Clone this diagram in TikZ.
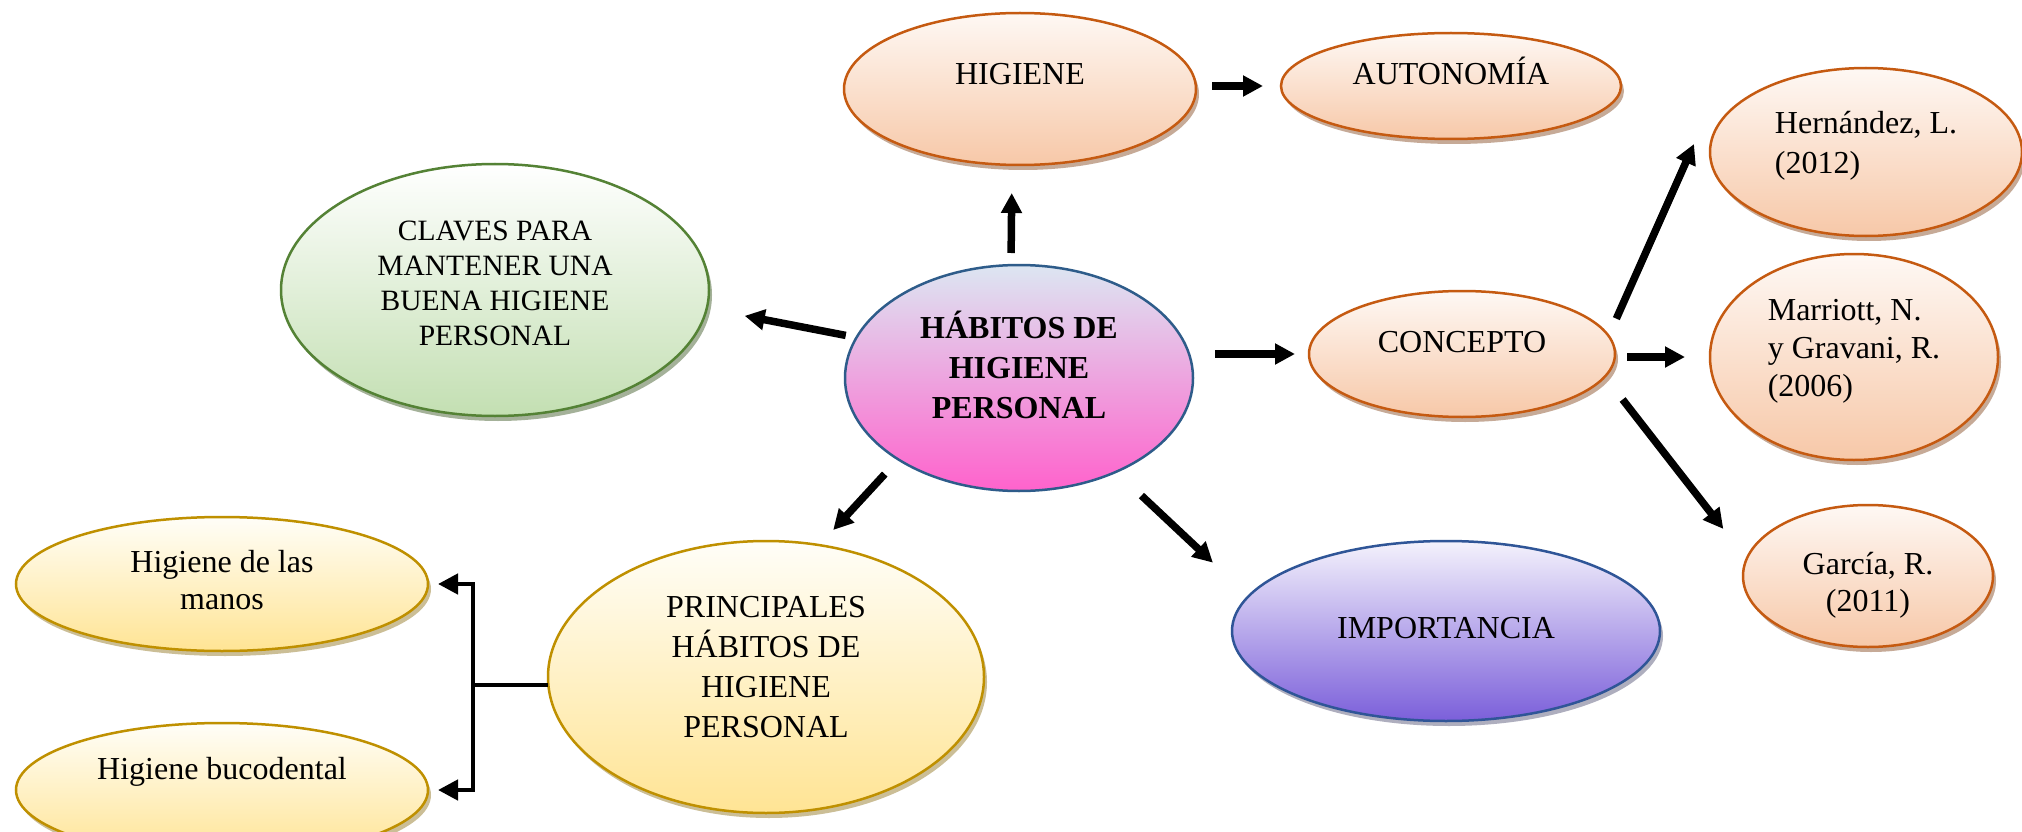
\documentclass[tikz,border=0pt]{standalone}
\usepackage{fontspec}
\setmainfont{Liberation Serif}
\usetikzlibrary{arrows.meta,shapes.geometric,shadows,calc}
\definecolor{orBd}{HTML}{C55A11}
\definecolor{orTop}{HTML}{FEF8F4}
\definecolor{orBot}{HTML}{F7C8A8}
\definecolor{orSh}{HTML}{B8957E}
\definecolor{pkBd}{HTML}{2E5C8A}
\definecolor{pkTop}{HTML}{DCE6F2}
\definecolor{pkBot}{HTML}{FF62CC}
\definecolor{gnBd}{HTML}{548235}
\definecolor{gnTop}{HTML}{FFFFFF}
\definecolor{gnBot}{HTML}{C3DFB2}
\definecolor{gnSh}{HTML}{8E9E80}
\definecolor{yeBd}{HTML}{BF9000}
\definecolor{yeTop}{HTML}{FFFEF8}
\definecolor{yeBot}{HTML}{FFE494}
\definecolor{yeSh}{HTML}{BFAE7C}
\definecolor{puBd}{HTML}{2F5597}
\definecolor{puTop}{HTML}{F4F2FC}
\definecolor{puBot}{HTML}{7B5FDA}
\definecolor{puSh}{HTML}{9A9AAE}
\newcommand{\tx}[3][c]{\raisebox{#2}[\height][\depth]{\begin{tabular}{@{}#1@{}}#3\end{tabular}}}
\begin{document}
\begin{tikzpicture}[x=1pt,y=-1pt,
  base/.style={ellipse, inner sep=0pt, outer sep=0pt, line width=2.5pt},
  fs/.style={font=\fontsize{32}{#1}\selectfont},
  orell/.style={base, draw=orBd, top color=orTop, bottom color=orBot,
     drop shadow={shadow xshift=3pt,shadow yshift=-5pt,fill=orSh,opacity=0.8}},
  gnell/.style={base, draw=gnBd, top color=gnTop, bottom color=gnBot,
     drop shadow={shadow xshift=3pt,shadow yshift=-5pt,fill=gnSh,opacity=0.8}},
  yeell/.style={base, draw=yeBd, top color=yeTop, bottom color=yeBot,
     drop shadow={shadow xshift=3pt,shadow yshift=-5pt,fill=yeSh,opacity=0.8}},
  puell/.style={base, draw=puBd, top color=puTop, bottom color=puBot,
     drop shadow={shadow xshift=3pt,shadow yshift=-5pt,fill=puSh,opacity=0.8}},
  pkell/.style={base, draw=pkBd, top color=pkTop, bottom color=pkBot},
  arr/.style={line width=7.5pt, -{Triangle[length=20pt,width=20pt]}},
  barr/.style={line width=4.5pt, -{Triangle[length=20pt,width=20pt]}},
  brl/.style={line width=3.5pt}
]
\fill[white] (0,0) rectangle (2022,832);
\useasboundingbox (0,0) rectangle (2022,832);

% nodes
\node[orell, fs=38, minimum width=352pt, minimum height=152pt] (hig) at (1020,89) {\tx{12pt}{HIGIENE}};
\node[orell, fs=38, minimum width=340pt, minimum height=106pt] (aut) at (1451,86) {\tx{10pt}{AUTONOMÍA}};
\node[pkell, fs=40, minimum width=348pt, minimum height=226pt] (hab) at (1019,378) {\tx{8pt}{\bfseries HÁBITOS DE\\\bfseries HIGIENE\\\bfseries PERSONAL}};
\node[gnell, font=\fontsize{29.5}{35}\selectfont, minimum width=428pt, minimum height=252pt] (cla) at (495,290) {\tx{4pt}{CLAVES PARA\\MANTENER UNA\\BUENA HIGIENE\\PERSONAL}};
\node[orell, fs=38, minimum width=306pt, minimum height=126pt] (con) at (1462,354) {\tx{9pt}{CONCEPTO}};
\node[orell, fs=40, minimum width=312pt, minimum height=168pt] (her) at (1866,152) {\tx[l]{6pt}{Hernández, L.\\(2012)}};
\node[orell, fs=38, minimum width=288pt, minimum height=206pt] (mar) at (1854,357) {\tx[l]{6pt}{Marriott, N.\\y Gravani, R.\\(2006)}};
\node[orell, fs=37, minimum width=250pt, minimum height=142pt] (gar) at (1868,576) {\tx{-10pt}{García, R.\\(2011)}};
\node[puell, fs=38, minimum width=428pt, minimum height=180pt] (imp) at (1446,631) {\tx{0pt}{IMPORTANCIA}};
\node[yeell, fs=40, minimum width=436pt, minimum height=272pt] (pri) at (766,677) {\tx{8pt}{PRINCIPALES\\HÁBITOS DE\\HIGIENE\\PERSONAL}};
\node[yeell, fs=37, minimum width=412pt, minimum height=134pt] (man) at (222,584) {\tx{0pt}{Higiene de las\\manos}};
\node[yeell, fs=37, minimum width=412pt, minimum height=134pt] (buc) at (222,790) {\tx{18pt}{Higiene bucodental}};

% connectors
\draw[arr, shorten <=12pt, shorten >=28pt] ([xshift=-8pt]hab.north) -- ([xshift=-8pt]hig.south);
\draw[arr, shorten <=16pt, shorten >=18pt] (aut.west -| hig.east) -- (aut.west);
\draw[arr, shorten <=11pt, shorten >=38.7pt] (hab.166.6) -- (cla.-5.6);
\draw[arr, shorten <=22pt, shorten >=14pt] (hab.east |- con.west) -- (con.west);
\draw[arr, shorten <=20pt, shorten >=20.5pt] (hab.214.4) -- (pri.68.2);
\draw[arr, shorten <=34.8pt, shorten >=49pt] (hab.-44.5) -- (imp.170.5);

\coordinate (herTip) at ($(her.west)+(-16,-8)$);
\draw[arr, shorten <=19pt] (con.7.3) -- (herTip);
\draw[arr, shorten <=12pt, shorten >=25pt] (mar.west -| con.east) -- (mar.west);
\draw[arr, shorten <=29pt, shorten >=38pt] (con.-9.7) -- (gar.172.4);

\coordinate (br) at ($(pri.west)+(-75,8)$);
\draw[brl] (pri.west |- br) -- (br);
\draw[barr, shorten >=10pt] (br) |- (man.east);
\draw[barr, shorten >=10pt] (br) |- (buc.east);
\end{tikzpicture}
\end{document}
